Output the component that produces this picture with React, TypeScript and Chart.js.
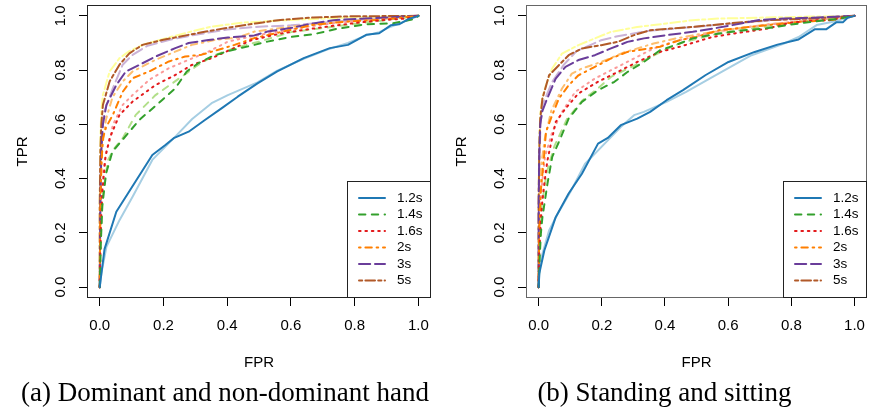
import { useEffect, useRef } from "react";
import { Chart, registerables } from "chart.js";

Chart.register(...registerables);

type P = [number, number];

// ---------- shared labels / ticks ----------
const SERIES_LABELS = ["1.2s", "1.4s", "1.6s", "2s", "3s", "5s"];
const DARK_COLORS = ["#1F78B4", "#33A02C", "#E31A1C", "#FF7F00", "#6A3D9A", "#B15928"];
const LIGHT_COLORS = ["#A6CEE3", "#B2DF8A", "#FB9A99", "#FDBF6F", "#CAB2D6", "#FFFF99"];
const U = 1.6;
const DASHES: number[][] = [
  [],
  [4 * U, 4 * U],
  [1 * U, 3 * U],
  [1 * U, 3 * U, 4 * U, 3 * U],
  [7 * U, 3 * U],
  [2 * U, 2 * U, 6 * U, 2 * U],
];
const X_TICKS = [0, 0.2, 0.4, 0.6, 0.8, 1.0];
const Y_TICKS = [0, 0.2, 0.4, 0.6, 0.8, 1.0];
const TICK_LABELS = ["0.0", "0.2", "0.4", "0.6", "0.8", "1.0"];
const X_TITLE = "FPR";
const Y_TITLE = "TPR";
const CAPTION_A = "(a) Dominant and non-dominant hand";
const CAPTION_B = "(b) Standing and sitting";

// ---------- panel (a): dominant and non-dominant hand ----------
const A_12: P[] = [[0,0],[0.003,0.03],[0.015,0.14],[0.052,0.278],[0.165,0.487],[0.206,0.524],[0.232,0.549],[0.279,0.573],[0.33,0.616],[0.382,0.659],[0.433,0.702],[0.495,0.751],[0.557,0.795],[0.64,0.844],[0.722,0.881],[0.779,0.893],[0.836,0.93],[0.877,0.936],[0.913,0.965],[0.939,0.969],[0.97,0.989],[1,1]];
const A_12L: P[] = [[0,0],[0.005,0.05],[0.021,0.149],[0.062,0.247],[0.103,0.333],[0.165,0.469],[0.237,0.555],[0.29,0.62],[0.351,0.678],[0.402,0.708],[0.495,0.755],[0.557,0.798],[0.64,0.842],[0.722,0.879],[0.779,0.9],[0.836,0.928],[0.877,0.94],[0.913,0.96],[0.97,0.985],[1,1]];
const A_14: P[] = [[0,0],[0.003,0.15],[0.008,0.3],[0.02,0.42],[0.04,0.5],[0.062,0.53],[0.124,0.616],[0.196,0.69],[0.237,0.733],[0.273,0.795],[0.31,0.826],[0.351,0.85],[0.402,0.87],[0.475,0.89],[0.526,0.905],[0.598,0.922],[0.67,0.932],[0.743,0.952],[0.836,0.969],[0.918,0.972],[0.99,0.989],[1,1]];
const A_14L: P[] = [[0,0],[0.003,0.2],[0.01,0.345],[0.026,0.469],[0.045,0.51],[0.072,0.549],[0.113,0.635],[0.175,0.708],[0.227,0.751],[0.273,0.789],[0.31,0.82],[0.36,0.855],[0.42,0.88],[0.5,0.905],[0.6,0.94],[0.7,0.955],[0.8,0.97],[0.9,0.985],[1,1]];
const A_16: P[] = [[0,0],[0.003,0.2],[0.008,0.35],[0.018,0.48],[0.031,0.549],[0.062,0.635],[0.103,0.684],[0.175,0.745],[0.237,0.782],[0.289,0.819],[0.351,0.844],[0.41,0.875],[0.475,0.91],[0.567,0.935],[0.65,0.95],[0.743,0.965],[0.826,0.977],[0.898,0.985],[0.96,0.99],[1,1]];
const A_16L: P[] = [[0,0],[0.003,0.25],[0.01,0.42],[0.02,0.5],[0.031,0.536],[0.041,0.598],[0.072,0.672],[0.103,0.708],[0.155,0.764],[0.217,0.807],[0.279,0.838],[0.341,0.868],[0.402,0.905],[0.475,0.924],[0.55,0.94],[0.65,0.96],[0.75,0.975],[0.85,0.985],[0.95,0.995],[1,1]];
const A_2: P[] = [[0,0],[0.002,0.3],[0.005,0.45],[0.01,0.549],[0.02,0.59],[0.041,0.635],[0.072,0.72],[0.103,0.77],[0.155,0.795],[0.217,0.832],[0.268,0.85],[0.32,0.857],[0.372,0.875],[0.423,0.893],[0.485,0.918],[0.598,0.948],[0.67,0.967],[0.774,0.979],[0.877,0.985],[1,1]];
const A_2L: P[] = [[0,0],[0.002,0.35],[0.008,0.52],[0.02,0.62],[0.04,0.7],[0.072,0.758],[0.103,0.795],[0.175,0.838],[0.237,0.868],[0.289,0.893],[0.361,0.911],[0.433,0.92],[0.485,0.942],[0.6,0.96],[0.7,0.972],[0.8,0.982],[0.9,0.99],[1,1]];
const A_3: P[] = [[0,0],[0.002,0.3],[0.005,0.5],[0.01,0.6],[0.021,0.672],[0.052,0.745],[0.082,0.795],[0.124,0.819],[0.175,0.85],[0.237,0.881],[0.279,0.9],[0.341,0.911],[0.402,0.92],[0.485,0.928],[0.526,0.942],[0.598,0.955],[0.67,0.972],[0.733,0.984],[0.846,0.991],[1,1]];
const A_3L: P[] = [[0,0],[0.002,0.4],[0.006,0.58],[0.015,0.65],[0.041,0.733],[0.072,0.82],[0.103,0.856],[0.15,0.89],[0.22,0.912],[0.3,0.93],[0.4,0.95],[0.5,0.96],[0.6,0.965],[0.7,0.975],[0.8,0.985],[0.9,0.99],[1,1]];
const A_5: P[] = [[0,0],[0,0.3],[0.002,0.5],[0.005,0.6],[0.01,0.672],[0.031,0.758],[0.062,0.82],[0.093,0.862],[0.134,0.893],[0.196,0.911],[0.279,0.93],[0.361,0.948],[0.423,0.96],[0.495,0.973],[0.567,0.985],[0.67,0.994],[0.774,0.998],[1,1]];
const A_5L: P[] = [[0,0],[0,0.35],[0.002,0.55],[0.005,0.65],[0.01,0.708],[0.031,0.795],[0.062,0.844],[0.093,0.87],[0.134,0.893],[0.2,0.915],[0.28,0.94],[0.35,0.96],[0.45,0.975],[0.6,0.985],[0.8,0.995],[1,1]];

// ---------- panel (b): standing and sitting ----------
const B_12: P[] = [[0,0],[0.002,0.05],[0.018,0.135],[0.054,0.258],[0.095,0.345],[0.137,0.418],[0.188,0.529],[0.219,0.55],[0.26,0.597],[0.312,0.621],[0.353,0.646],[0.405,0.689],[0.457,0.726],[0.529,0.782],[0.601,0.83],[0.684,0.867],[0.756,0.894],[0.823,0.913],[0.875,0.951],[0.911,0.951],[0.942,0.976],[0.963,0.976],[0.978,0.993],[1,1]];
const B_12L: P[] = [[0,0],[0.004,0.08],[0.012,0.123],[0.033,0.209],[0.06,0.27],[0.1,0.35],[0.147,0.455],[0.219,0.541],[0.26,0.59],[0.302,0.634],[0.333,0.646],[0.405,0.683],[0.467,0.72],[0.551,0.775],[0.674,0.855],[0.777,0.898],[0.823,0.922],[0.88,0.966],[0.932,0.978],[0.97,0.99],[1,1]];
const B_14: P[] = [[0,0],[0.003,0.1],[0.007,0.197],[0.012,0.258],[0.028,0.382],[0.043,0.48],[0.064,0.535],[0.095,0.621],[0.137,0.683],[0.188,0.726],[0.24,0.757],[0.281,0.793],[0.333,0.83],[0.384,0.873],[0.446,0.898],[0.488,0.917],[0.57,0.935],[0.653,0.947],[0.715,0.953],[0.798,0.968],[0.88,0.98],[0.942,0.988],[1,1]];
const B_14L: P[] = [[0,0],[0.003,0.15],[0.01,0.3],[0.025,0.42],[0.05,0.52],[0.09,0.62],[0.14,0.69],[0.19,0.735],[0.229,0.775],[0.26,0.793],[0.3,0.815],[0.35,0.845],[0.4,0.875],[0.45,0.9],[0.55,0.93],[0.65,0.95],[0.75,0.965],[0.85,0.98],[0.95,0.99],[1,1]];
const B_16: P[] = [[0,0],[0.002,0.12],[0.007,0.246],[0.012,0.32],[0.02,0.4],[0.028,0.468],[0.038,0.523],[0.054,0.609],[0.085,0.658],[0.126,0.714],[0.188,0.757],[0.25,0.793],[0.312,0.83],[0.384,0.867],[0.446,0.886],[0.498,0.904],[0.55,0.922],[0.601,0.932],[0.725,0.953],[0.798,0.975],[0.88,0.984],[0.92,0.984],[1,1]];
const B_16L: P[] = [[0,0],[0.002,0.2],[0.008,0.35],[0.02,0.48],[0.043,0.572],[0.074,0.646],[0.116,0.72],[0.178,0.769],[0.24,0.806],[0.302,0.843],[0.364,0.88],[0.426,0.904],[0.488,0.922],[0.58,0.945],[0.674,0.96],[0.78,0.975],[0.88,0.985],[0.95,0.995],[1,1]];
const B_2: P[] = [[0,0],[0.002,0.2],[0.007,0.357],[0.018,0.492],[0.023,0.572],[0.043,0.634],[0.064,0.695],[0.095,0.744],[0.126,0.781],[0.178,0.812],[0.229,0.843],[0.281,0.867],[0.312,0.873],[0.384,0.886],[0.446,0.91],[0.498,0.922],[0.57,0.947],[0.725,0.966],[0.829,0.978],[0.93,0.985],[1,1]];
const B_2L: P[] = [[0,0],[0.002,0.3],[0.008,0.45],[0.02,0.55],[0.04,0.65],[0.074,0.732],[0.105,0.787],[0.137,0.806],[0.198,0.83],[0.27,0.865],[0.364,0.898],[0.436,0.917],[0.52,0.935],[0.62,0.952],[0.72,0.968],[0.83,0.98],[0.93,0.99],[1,1]];
const B_3: P[] = [[0,0],[0,0.3],[0.002,0.5],[0.005,0.6],[0.012,0.65],[0.023,0.683],[0.054,0.769],[0.085,0.812],[0.126,0.837],[0.178,0.855],[0.229,0.88],[0.281,0.904],[0.333,0.917],[0.405,0.929],[0.488,0.941],[0.601,0.963],[0.694,0.984],[0.777,0.99],[0.86,0.993],[1,1]];
const B_3L: P[] = [[0,0],[0.002,0.45],[0.006,0.6],[0.012,0.671],[0.043,0.757],[0.08,0.82],[0.12,0.87],[0.198,0.91],[0.25,0.925],[0.35,0.945],[0.45,0.955],[0.55,0.965],[0.65,0.975],[0.75,0.985],[0.85,0.99],[1,1]];
const B_5: P[] = [[0,0],[0,0.3],[0.002,0.5],[0.005,0.62],[0.012,0.695],[0.033,0.781],[0.064,0.818],[0.095,0.855],[0.137,0.88],[0.198,0.892],[0.25,0.904],[0.302,0.929],[0.353,0.947],[0.415,0.953],[0.488,0.959],[0.601,0.972],[0.725,0.984],[0.86,0.99],[1,1]];
const B_5L: P[] = [[0,0],[0,0.35],[0.002,0.55],[0.006,0.65],[0.012,0.7],[0.023,0.744],[0.043,0.806],[0.074,0.861],[0.126,0.892],[0.178,0.917],[0.229,0.941],[0.312,0.959],[0.405,0.972],[0.488,0.984],[0.57,0.99],[0.77,0.995],[1,1]];

const A_DARK = [A_12, A_14, A_16, A_2, A_3, A_5];
const A_LIGHT = [A_12L, A_14L, A_16L, A_2L, A_3L, A_5L];
const B_DARK = [B_12, B_14, B_16, B_2, B_3, B_5];
const B_LIGHT = [B_12L, B_14L, B_16L, B_2L, B_3L, B_5L];

const SANS = '"Liberation Sans", Arial, sans-serif';

function buildChart(canvas: HTMLCanvasElement, dark: P[][], light: P[][], padRight: number, boxColor: string) {
  const toXY = (pts: P[]) => pts.map(([x, y]) => ({ x, y }));
  const datasets: any[] = [];
  dark.forEach((pts, i) => {
    datasets.push({
      label: SERIES_LABELS[i],
      data: toXY(pts),
      borderColor: DARK_COLORS[i],
      borderWidth: 2,
      borderDash: DASHES[i],
      borderCapStyle: "round",
      borderJoinStyle: "round",
      pointRadius: 0,
      tension: 0,
      fill: false,
    });
  });
  light.forEach((pts, i) => {
    datasets.push({
      label: SERIES_LABELS[i] + " (light)",
      data: toXY(pts),
      borderColor: LIGHT_COLORS[i],
      borderWidth: 2,
      borderDash: DASHES[i],
      borderCapStyle: "round",
      borderJoinStyle: "round",
      pointRadius: 0,
      tension: 0,
      fill: false,
    });
  });

  const framePlugin = {
    id: "rframe",
    afterDraw(chart: any) {
      const { ctx, chartArea, scales } = chart;
      ctx.save();
      // plot box
      ctx.strokeStyle = boxColor;
      ctx.lineWidth = 1;
      const l = Math.round(chartArea.left) + 0.5;
      const t = Math.round(chartArea.top) + 0.5;
      const r = Math.round(chartArea.right) - 0.5;
      const b = Math.round(chartArea.bottom) - 0.5;
      ctx.strokeRect(l, t, r - l, b - t);
      // rotated y tick labels
      ctx.fillStyle = "#000";
      ctx.font = `15px ${SANS}`;
      ctx.textAlign = "center";
      ctx.textBaseline = "alphabetic";
      Y_TICKS.forEach((v, i) => {
        const py = scales.y.getPixelForValue(v);
        ctx.save();
        ctx.translate(chartArea.left - 22, py);
        ctx.rotate(-Math.PI / 2);
        ctx.fillText(TICK_LABELS[i], 0, 0);
        ctx.restore();
      });
      // legend
      const w = 84;
      const h = 117;
      const x0 = Math.round(chartArea.right) - w;
      const y0 = Math.round(chartArea.bottom) - h;
      ctx.fillStyle = "#fff";
      ctx.fillRect(x0, y0, w, h);
      ctx.strokeStyle = "#222";
      ctx.lineWidth = 1;
      ctx.strokeRect(x0 + 0.5, y0 + 0.5, w - 1, h - 1);
      SERIES_LABELS.forEach((lab, i) => {
        const y = y0 + 17 + i * 16.5;
        ctx.strokeStyle = DARK_COLORS[i];
        ctx.lineWidth = 2;
        ctx.lineCap = "round";
        ctx.setLineDash(DASHES[i]);
        ctx.beginPath();
        ctx.moveTo(x0 + 12, y);
        ctx.lineTo(x0 + 38, y);
        ctx.stroke();
        ctx.setLineDash([]);
        ctx.fillStyle = "#000";
        ctx.font = `13.5px ${SANS}`;
        ctx.textAlign = "left";
        ctx.textBaseline = "middle";
        ctx.fillText(lab, x0 + 50, y);
      });
      ctx.restore();
    },
  };

  return new Chart(canvas, {
    type: "line",
    data: { datasets },
    options: {
      animation: false,
      responsive: false,
      devicePixelRatio: 1,
      layout: { padding: { left: 0, right: padRight, top: 5, bottom: 0 } },
      plugins: { legend: { display: false }, tooltip: { enabled: false } },
      scales: {
        x: {
          type: "linear",
          min: -0.04,
          max: 1.04,
          afterBuildTicks: (s: any) => {
            s.ticks = X_TICKS.map((v) => ({ value: v }));
          },
          afterFit: (s: any) => {
            s.height = 82;
          },
          grid: { display: true, drawOnChartArea: false, drawTicks: true, tickLength: 8, color: "#000", lineWidth: 1 },
          border: { display: false },
          ticks: {
            autoSkip: false,
            maxRotation: 0,
            padding: 11,
            color: "#000",
            font: { family: SANS, size: 15 },
            callback: (_v: any, i: number) => TICK_LABELS[i],
          },
          title: { display: true, text: X_TITLE, color: "#000", font: { family: SANS, size: 15 }, padding: { top: 0, bottom: 8 } },
        },
        y: {
          type: "linear",
          min: -0.04,
          max: 1.04,
          afterBuildTicks: (s: any) => {
            s.ticks = Y_TICKS.map((v) => ({ value: v }));
          },
          afterFit: (s: any) => {
            s.width = 87;
          },
          grid: { display: true, drawOnChartArea: false, drawTicks: true, tickLength: 8, color: "#000", lineWidth: 1 },
          border: { display: false },
          ticks: { display: false },
          title: { display: true, text: Y_TITLE, color: "#000", font: { family: SANS, size: 15 }, padding: { top: 14, bottom: 0 } },
        },
      },
    },
    plugins: [framePlugin],
  } as any);
}

function Panel({ left, width, dark, light, padRight, boxColor }: { left: number; width: number; dark: P[][]; light: P[][]; padRight: number; boxColor: string }) {
  const ref = useRef<HTMLCanvasElement | null>(null);
  useEffect(() => {
    if (!ref.current) return;
    const chart = buildChart(ref.current, dark, light, padRight, boxColor);
    return () => chart.destroy();
  }, []);
  return (
    <canvas
      ref={ref}
      width={width}
      height={380}
      style={{ position: "absolute", left, top: 0, width, height: 380 }}
    />
  );
}

const captionStyle: any = {
  position: "absolute",
  top: 379,
  fontFamily: '"Liberation Serif", "Times New Roman", serif',
  fontSize: 27,
  lineHeight: "27px",
  textAlign: "center",
  color: "#000",
  whiteSpace: "nowrap",
};

export default function App() {
  return (
    <div style={{ position: "fixed", left: 0, top: 0, width: 874, height: 412, overflow: "hidden", background: "#fff" }}>
      <Panel left={0} width={440} dark={A_DARK} light={A_LIGHT} padRight={4} boxColor="#222" />
      <Panel left={439} width={437} dark={B_DARK} light={B_LIGHT} padRight={1} boxColor="#666" />
      <div style={{ ...captionStyle, left: 0, width: 450 }}>{CAPTION_A}</div>
      <div style={{ ...captionStyle, left: 514.5, width: 300 }}>{CAPTION_B}</div>
    </div>
  );
}
